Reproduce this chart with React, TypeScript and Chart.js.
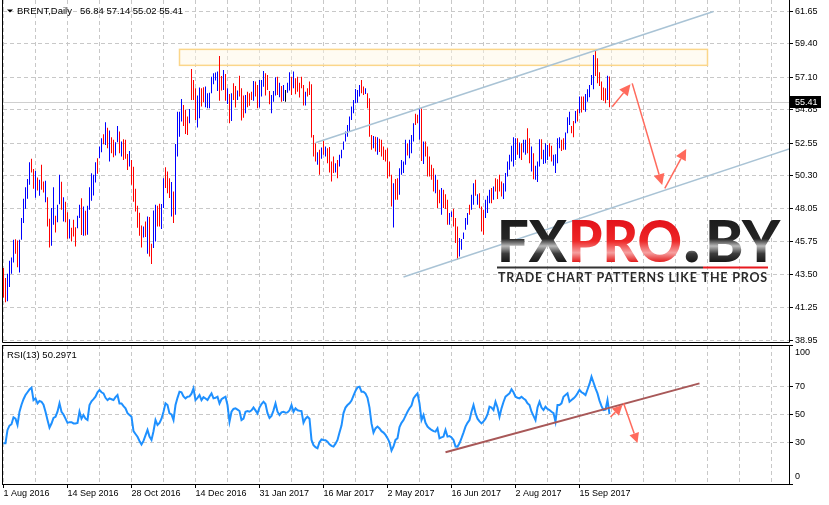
import React, { useEffect, useRef } from "react";
import { Chart, registerables } from "chart.js";

Chart.register(...registerables);

const FONT = '"Liberation Sans", Arial, Helvetica, sans-serif';

// ---------- DATA ----------
const highs = [
  43.95, 43.26, 43.56, 44.45, 44.68, 45.90, 45.94, 45.85, 45.90, 47.39,
  48.72, 49.52, 50.09, 51.24, 51.47, 50.78, 50.64, 50.19, 50.03, 51.06,
  49.91, 49.96, 48.83, 47.34, 48.08, 49.52, 47.55, 48.31, 50.37, 49.89,
  48.83, 48.51, 47.80, 47.32, 46.72, 47.27, 46.77, 47.55, 48.31, 48.76,
  48.19, 47.89, 48.24, 49.52, 50.48, 50.37, 51.24, 51.52, 52.32, 52.89,
  53.17, 53.99, 53.62, 53.42, 52.96, 52.78, 52.62, 53.74, 53.35, 52.66,
  52.82, 52.78, 51.81, 52.02, 51.40, 50.93, 49.41, 48.24, 47.76, 46.88,
  46.82, 47.16, 47.50, 47.46, 45.62, 47.92, 48.31, 48.24, 48.38, 48.36,
  50.14, 50.90, 50.60, 50.14, 49.87, 49.22, 52.50, 54.72, 54.72, 55.60,
  55.18, 54.84, 54.38, 54.91, 57.66, 56.90, 56.33, 55.83, 56.38, 56.33,
  56.40, 56.45, 55.99, 56.03, 57.13, 57.37, 57.41, 57.48, 58.56, 57.18,
  57.59, 57.32, 56.33, 55.94, 55.99, 56.68, 56.49, 56.17, 57.20, 56.33,
  55.83, 55.87, 56.10, 55.99, 56.10, 56.83, 56.79, 56.56, 56.90, 56.90,
  57.52, 57.37, 57.25, 56.15, 55.87, 56.15, 57.09, 57.13, 56.72, 56.49,
  56.56, 56.22, 56.72, 57.43, 57.13, 57.48, 57.02, 57.13, 56.72, 57.13,
  56.56, 56.10, 56.33, 56.79, 56.60, 53.12, 52.55, 51.93, 52.09, 52.25,
  52.78, 52.32, 52.21, 52.28, 51.29, 51.63, 51.17, 51.40, 51.75, 52.09,
  52.66, 53.35, 53.81, 54.38, 55.07, 55.53, 56.29, 56.22, 56.56, 56.90,
  56.45, 56.33, 55.99, 55.65, 53.12, 53.05, 53.00, 52.96, 52.85, 52.78,
  52.32, 52.09, 52.21, 51.29, 50.37, 49.80, 50.08, 50.14, 50.83, 51.40,
  51.29, 52.78, 52.55, 52.78, 53.12, 53.93, 54.57, 54.50, 54.89, 54.96,
  52.66, 52.66, 52.32, 51.63, 51.06, 50.83, 50.37, 50.03, 49.34, 49.46,
  49.34, 49.04, 48.65, 47.74, 47.85, 48.03, 47.39, 46.82, 46.02, 45.95,
  46.40, 47.39, 47.74, 48.31, 49.00, 49.80, 50.03, 49.04, 49.11, 48.19,
  47.96, 48.65, 48.93, 49.34, 49.46, 49.57, 50.14, 50.07, 50.37, 49.91,
  49.80, 50.49, 51.29, 51.75, 52.37, 52.96, 52.89, 52.89, 52.59, 52.55,
  52.78, 52.78, 53.58, 52.89, 52.32, 51.86, 50.99, 51.29, 52.82, 52.82,
  52.09, 52.55, 52.43, 52.55, 52.37, 51.75, 51.79, 52.89, 52.96, 52.78,
  52.89, 53.28, 54.34, 54.72, 53.74, 54.08, 54.77, 54.89, 55.76, 55.76,
  55.76, 55.94, 56.26, 56.56, 57.25, 58.62, 58.92, 58.40, 57.43, 56.79,
  56.38, 56.33, 57.20, 57.14,
];

const lows = [
  41.93, 41.59, 41.66, 42.64, 43.56, 44.34, 44.94, 44.00, 43.65, 45.90,
  47.05, 48.03, 48.72, 49.68, 50.53, 49.41, 48.79, 49.29, 48.93, 49.34,
  49.15, 48.49, 46.82, 45.37, 45.49, 46.93, 46.40, 47.11, 48.35, 47.96,
  47.16, 47.11, 45.97, 45.99, 45.78, 46.13, 45.44, 46.70, 47.39, 46.22,
  46.17, 46.20, 46.24, 47.96, 48.58, 48.95, 49.84, 50.44, 51.52, 51.93,
  52.48, 52.43, 52.20, 51.29, 51.86, 51.58, 51.70, 52.62, 51.86, 51.63,
  51.40, 51.47, 50.71, 50.94, 49.68, 48.51, 47.85, 46.72, 46.18, 45.37,
  46.06, 46.09, 44.94, 44.75, 44.23, 45.33, 45.78, 46.82, 46.82, 46.64,
  48.08, 49.46, 49.11, 48.77, 47.50, 47.05, 47.62, 51.63, 53.00, 54.04,
  53.74, 53.19, 53.12, 53.93, 55.53, 55.53, 54.15, 53.63, 54.27, 55.07,
  55.37, 55.03, 54.96, 54.96, 55.99, 56.61, 56.86, 56.15, 55.48, 56.17,
  56.22, 55.48, 55.25, 53.93, 54.08, 55.53, 55.00, 55.53, 55.76, 54.11,
  54.31, 54.61, 55.03, 55.12, 55.53, 55.48, 55.76, 54.96, 55.00, 55.76,
  56.44, 55.83, 56.22, 55.23, 54.61, 55.41, 55.83, 55.87, 55.71, 55.41,
  55.46, 55.41, 56.03, 56.17, 55.87, 56.33, 55.92, 56.10, 55.69, 56.33,
  55.14, 55.14, 55.76, 55.87, 52.95, 51.63, 51.29, 51.06, 50.37, 51.47,
  51.75, 51.63, 51.17, 50.53, 49.91, 50.49, 50.53, 50.14, 50.94, 51.52,
  52.09, 52.66, 53.00, 53.35, 54.15, 54.61, 55.30, 55.34, 55.76, 55.99,
  55.87, 55.94, 54.96, 53.00, 52.09, 52.21, 51.97, 51.75, 51.95, 51.63,
  51.40, 51.29, 50.14, 50.26, 48.19, 46.75, 48.65, 48.65, 49.00, 50.37,
  50.49, 51.06, 51.70, 51.52, 51.86, 52.66, 53.81, 53.93, 52.78, 51.33,
  51.11, 51.63, 50.26, 50.26, 50.03, 49.22, 49.11, 48.08, 48.42, 47.62,
  48.08, 48.01, 46.93, 46.93, 47.46, 46.82, 45.67, 44.53, 44.75, 45.21,
  45.95, 46.59, 46.93, 47.62, 47.96, 48.31, 48.93, 48.31, 48.08, 46.47,
  46.25, 47.39, 47.74, 48.42, 48.42, 48.65, 49.22, 48.70, 49.22, 48.88,
  48.70, 49.22, 50.26, 50.72, 51.29, 50.94, 51.40, 51.75, 51.52, 51.40,
  51.91, 51.75, 51.86, 51.17, 50.60, 50.07, 50.03, 49.87, 50.94, 51.45,
  51.11, 51.17, 51.40, 51.63, 51.29, 50.99, 50.49, 51.17, 52.21, 52.02,
  52.09, 52.09, 53.24, 53.81, 53.24, 52.96, 53.93, 54.04, 54.61, 54.66,
  54.84, 54.72, 55.41, 55.71, 56.56, 56.26, 57.18, 56.68, 56.49, 55.53,
  55.48, 55.30, 55.53, 55.02,
];

// u = up bar (blue), d = down bar (red), n = unchanged (black); groups of 5
const barDirs = (
  "dduuu udduu uuuud dudud duddu uduud uddud dduud uduuu uuduu " +
  "dudud duudu dddud ddddd ududd uuddu udddu duuuu dddud dduud " +
  "duuuu uuudd ududu ddudd duddd udduu udddu uudud unuud udddd " +
  "duddd ddudu duddd duduu uuuuu uuuud duddd ududd ddddd udduu " +
  "uuduu uddud udddd duddu ddduu ddduu uuudu ududd duuud udddd " +
  "uuuuu uudud uuddu duuud uuudd uuuud duuud dudud duuuu udddd ddud"
).replace(/ /g, "");

const rsiValues = [
  29.3, 29.3, 38.9, 42, 43, 48, 47, 42.5, 52, 57,
  61, 64, 66, 68, 69.3, 60.4, 61.6, 58, 59.7, 59.2,
  57, 52, 46, 40.5, 43.5, 47.5, 48.4, 52, 58, 52,
  50, 47, 44, 44.5, 44.5, 43.6, 43.6, 44, 52, 47,
  49.6, 47, 46, 56.8, 59.5, 61, 62.8, 66, 67.6, 66,
  65.2, 62, 60.4, 61.6, 61, 60.4, 62.5, 64, 58, 58,
  56, 54.4, 51, 49.6, 48.4, 38, 36, 34, 31, 28.5,
  31, 35, 38.9, 34.1, 31.7, 38, 46, 42.5, 44, 47,
  52, 58, 56.8, 50.8, 50, 46, 56.8, 62, 66.4, 66,
  63, 61.6, 62.8, 63, 65, 68.8, 60.4, 62, 64, 60.4,
  62.5, 61.5, 60.4, 63, 65.2, 61.6, 62, 62.8, 58, 61,
  62, 62.8, 56.8, 44.8, 52, 54, 54.4, 53.5, 52.5, 46,
  47, 52, 52.5, 52, 53, 55, 53, 50.8, 55, 57.5,
  59.2, 57.5, 51, 47.5, 49, 53, 58, 52, 49.6, 51.5,
  52, 51.3, 51.5, 53, 56.8, 52, 54.4, 53, 52.7, 52.5,
  44, 47, 48.4, 47, 31.7, 28, 26.5, 25.7, 30, 32.1,
  31.7, 31.5, 30.5, 28.5, 27.4, 26.9, 29, 31.7, 37, 42,
  51, 55, 56.8, 58, 60, 63.5, 67, 69.5, 70, 66.4,
  66.4, 65, 62, 55, 43.6, 37, 40, 41.3, 40, 38,
  37, 35.3, 33, 30, 24, 27, 31.7, 32.9, 41, 44,
  46, 49, 52, 54.5, 56.5, 61.6, 63.5, 65.2, 58, 46,
  49.6, 44, 41.3, 40, 38.9, 38, 37.7, 40, 32.9, 33.5,
  34.1, 38.9, 34.1, 34.5, 33.5, 31.7, 27, 26.9, 29.3, 33,
  37, 41.3, 44, 46, 52, 56.8, 51, 47, 45, 43.6,
  45, 47, 50, 55.6, 55, 53.2, 59.2, 55, 48.4, 54.4,
  59, 62.8, 64, 65.2, 68.1, 66, 62.8, 62, 61.6, 62.8,
  61.5, 60.4, 58, 56.8, 52, 49, 46, 55, 59.2, 55,
  53.2, 55.6, 54, 53.2, 52, 51, 44.8, 56.8, 56.8, 58,
  62.8, 64, 65.2, 59.2, 60.5, 61.6, 63, 65.2, 67.6, 66,
  65.2, 64, 68, 72, 77.2, 73, 68.8, 65.2, 60, 56,
  53.2, 53.5, 60.4, 50.3,
];

const dateLabels = [
  "1 Aug 2016", "14 Sep 2016", "28 Oct 2016", "14 Dec 2016", "31 Jan 2017",
  "16 Mar 2017", "2 May 2017", "16 Jun 2017", "2 Aug 2017", "15 Sep 2017",
];
const dateTickBars = [0, 32, 64, 96, 128, 160, 192, 224, 256, 288];
const priceTicks = [61.65, 59.40, 57.10, 54.85, 52.55, 50.30, 48.05, 45.75, 43.50, 41.25, 38.95];
const rsiTicks = [0, 30, 50, 70, 100];
const rsiGridLevels = [30, 50, 70];

const symbol = "BRENT,Daily";
const lastOHLC = [56.84, 57.14, 55.02, 55.41];
const rsiName = "RSI(13)";
const rsiLast = "50.2971";

// annotations in data units [barIndex, value]
const levelBox = [[88, 59.01], [352, 57.91]];
const channelUpper = [[156, 52.58], [355, 61.62]];
const channelLower = [[200, 43.33], [393.5, 52.19]];
const priceArrows = [
  [[304.35, 55.06], [313.5, 56.60]],
  [[314.35, 56.67], [329.35, 49.67]],
  [[330.65, 49.44], [341.35, 52.15]],
];
const rsiTrend = [[221, 22.8], [348, 72.4]];
const rsiArrows = [
  [[303.5, 48.2], [309.5, 56.8]],
  [[310, 58.3], [317, 29.5]],
];

// ---------- LAYOUT CONSTANTS ----------
const X_MIN = -0.25;
const X_MAX = 392.75;
const GRID_STEP = 16;
const PRICE_MIN = 38.86;
const PRICE_MAX = 62.41;
const GRID_COLOR = "#c8c8c8";
const ARROW_COLOR = "#ff6a5c";

function gridBars() {
  const out: number[] = [];
  for (let v = 0; v <= X_MAX; v += GRID_STEP) out.push(v);
  return out;
}

function zeroPad(s: any) {
  s.paddingTop = 0;
  s.paddingBottom = 0;
  s.paddingLeft = 0;
  s.paddingRight = 0;
}

function drawArrow(ctx: CanvasRenderingContext2D, x0: number, y0: number, x1: number, y1: number, head: number, half: number) {
  const dx = x1 - x0, dy = y1 - y0;
  const len = Math.hypot(dx, dy);
  const ux = dx / len, uy = dy / len;
  const bx = x1 - ux * head, by = y1 - uy * head;
  ctx.strokeStyle = ARROW_COLOR;
  ctx.fillStyle = ARROW_COLOR;
  ctx.lineWidth = 1.5;
  ctx.beginPath();
  ctx.moveTo(x0, y0);
  ctx.lineTo(bx, by);
  ctx.stroke();
  ctx.beginPath();
  ctx.moveTo(x1, y1);
  ctx.lineTo(bx - uy * half, by + ux * half);
  ctx.lineTo(bx + uy * half, by - ux * half);
  ctx.closePath();
  ctx.fill();
}

function drawLogo(ctx: CanvasRenderingContext2D) {
  ctx.save();
  const top = 220, base = 262;
  const dark = ctx.createLinearGradient(0, top, 0, base);
  dark.addColorStop(0, "#1c1c1c");
  dark.addColorStop(0.45, "#262626");
  dark.addColorStop(0.62, "#b9b9b9");
  dark.addColorStop(0.8, "#3c3c3c");
  dark.addColorStop(1, "#181818");
  const red = ctx.createLinearGradient(0, top, 0, base);
  red.addColorStop(0, "#e3121a");
  red.addColorStop(0.5, "#ee2626");
  red.addColorStop(0.78, "#f6a0a0");
  red.addColorStop(1, "#e21c1c");
  ctx.textBaseline = "alphabetic";
  ctx.textAlign = "left";
  ctx.font = '900 58px Lato, "DejaVu Sans", sans-serif';
  ctx.fillStyle = dark;
  ctx.fillText("FX", 497, base, 70);
  ctx.fillStyle = red;
  ctx.fillText("PRO", 568, base, 114);
  ctx.fillStyle = dark;
  ctx.fillText("BY", 705, base, 78);
  ctx.font = '900 74px Lato, "DejaVu Sans", sans-serif';
  ctx.fillText(".", 683, base, 21);
  // underline
  ctx.fillStyle = "#333333";
  ctx.fillRect(497, 266.5, 206, 2);
  ctx.fillStyle = "#e8191f";
  ctx.fillRect(703, 266.5, 65, 2);
  // tagline
  const tag = "TRADE CHART PATTERNS LIKE THE PROS";
  ctx.font = 'bold 12.5px Lato, "DejaVu Sans", sans-serif';
  ctx.fillStyle = "#2a2a2a";
  const w = ctx.measureText(tag).width;
  const target = 270;
  if (w < target && "letterSpacing" in ctx) {
    (ctx as any).letterSpacing = ((target - w) / (tag.length - 1)).toFixed(2) + "px";
  }
  ctx.fillText(tag, 498, 282.3, target);
  ctx.restore();
}

const mainDecor = {
  id: "mainDecor",
  beforeDatasetsDraw(chart: any) {
    const { ctx, chartArea: a, scales } = chart;
    const x = scales.x, y = scales.y;
    ctx.save();
    const bx0 = x.getPixelForValue(levelBox[0][0]);
    const bx1 = x.getPixelForValue(levelBox[1][0]);
    const by0 = y.getPixelForValue(levelBox[0][1]);
    const by1 = y.getPixelForValue(levelBox[1][1]);
    ctx.fillStyle = "rgba(255, 246, 226, 0.45)";
    ctx.fillRect(bx0, by0, bx1 - bx0, by1 - by0);
    ctx.strokeStyle = "#fbd68a";
    ctx.lineWidth = 1.5;
    ctx.strokeRect(bx0, by0, bx1 - bx0, by1 - by0);
    const py = Math.round(y.getPixelForValue(lastOHLC[3])) + 0.5;
    ctx.strokeStyle = "#cfcfcf";
    ctx.lineWidth = 1;
    ctx.beginPath();
    ctx.moveTo(a.left, py);
    ctx.lineTo(a.right, py);
    ctx.stroke();
    ctx.restore();
  },
  afterDatasetsDraw(chart: any) {
    const { ctx, chartArea: a, scales } = chart;
    const x = scales.x, y = scales.y;
    ctx.save();
    ctx.beginPath();
    ctx.rect(a.left, a.top, a.right - a.left, a.bottom - a.top);
    ctx.clip();
    ctx.strokeStyle = "#a9c3d5";
    ctx.lineWidth = 1.5;
    for (const ln of [channelUpper, channelLower]) {
      ctx.beginPath();
      ctx.moveTo(x.getPixelForValue(ln[0][0]), y.getPixelForValue(ln[0][1]));
      ctx.lineTo(x.getPixelForValue(ln[1][0]), y.getPixelForValue(ln[1][1]));
      ctx.stroke();
    }
    drawLogo(ctx);
    for (const ar of priceArrows) {
      drawArrow(
        ctx,
        x.getPixelForValue(ar[0][0]), y.getPixelForValue(ar[0][1]),
        x.getPixelForValue(ar[1][0]), y.getPixelForValue(ar[1][1]),
        11, 5.5
      );
    }
    ctx.restore();
  },
  afterDraw(chart: any) {
    const { ctx, chartArea: a, scales } = chart;
    const y = scales.y;
    ctx.save();
    // frame
    ctx.strokeStyle = "#000";
    ctx.lineWidth = 1;
    ctx.beginPath();
    ctx.moveTo(a.left - 0.5, 0);
    ctx.lineTo(a.left - 0.5, a.bottom + 0.5);
    ctx.lineTo(a.right + 0.5, a.bottom + 0.5);
    ctx.lineTo(a.right + 0.5, 0);
    ctx.stroke();
    // title
    ctx.fillStyle = "#000";
    ctx.beginPath();
    ctx.moveTo(7, 9.5);
    ctx.lineTo(13, 9.5);
    ctx.lineTo(10, 12.5);
    ctx.closePath();
    ctx.fill();
    ctx.font = "9.5px " + FONT;
    ctx.textBaseline = "middle";
    ctx.textAlign = "left";
    ctx.fillText(symbol, 17, 11.5);
    ctx.fillText(lastOHLC.map((v) => v.toFixed(2)).join(" "), 80, 11.5);
    // last price box
    const py = Math.round(y.getPixelForValue(lastOHLC[3]));
    ctx.fillStyle = "#000";
    ctx.fillRect(a.right + 1, py - 6, 31, 12);
    ctx.fillStyle = "#fff";
    ctx.font = "9px " + FONT;
    ctx.fillText(lastOHLC[3].toFixed(2), a.right + 6, py + 0.5);
    ctx.restore();
  },
};

const rsiDecor = {
  id: "rsiDecor",
  beforeDraw(chart: any) {
    const sc = chart.scales.y;
    const items = sc.getLabelItems(chart.chartArea);
    items.forEach((it: any, k: number) => {
      if (it._nudged) return;
      const val = sc.ticks[k] && sc.ticks[k].value;
      if (val === 100) it.options.translation[1] += 7.7;
      if (val === 0) it.options.translation[1] -= 7.3;
      it._nudged = true;
    });
  },
  afterDatasetsDraw(chart: any) {
    const { ctx, chartArea: a, scales } = chart;
    const x = scales.x, y = scales.y;
    ctx.save();
    ctx.beginPath();
    ctx.rect(a.left, a.top, a.right - a.left, a.bottom - a.top);
    ctx.clip();
    ctx.strokeStyle = "#a85858";
    ctx.lineWidth = 2;
    ctx.beginPath();
    ctx.moveTo(x.getPixelForValue(rsiTrend[0][0]), y.getPixelForValue(rsiTrend[0][1]));
    ctx.lineTo(x.getPixelForValue(rsiTrend[1][0]), y.getPixelForValue(rsiTrend[1][1]));
    ctx.stroke();
    for (const ar of rsiArrows) {
      drawArrow(
        ctx,
        x.getPixelForValue(ar[0][0]), y.getPixelForValue(ar[0][1]),
        x.getPixelForValue(ar[1][0]), y.getPixelForValue(ar[1][1]),
        10, 5
      );
    }
    ctx.restore();
  },
  afterDraw(chart: any) {
    const { ctx, chartArea: a } = chart;
    ctx.save();
    ctx.strokeStyle = "#000";
    ctx.lineWidth = 1;
    ctx.strokeRect(a.left - 0.5, a.top + 0.5, a.right - a.left + 1, a.bottom - a.top);
    ctx.fillStyle = "#000";
    ctx.font = "9.5px " + FONT;
    ctx.textBaseline = "middle";
    ctx.textAlign = "left";
    ctx.fillText(rsiName + " " + rsiLast, 7, 11.5);
    ctx.restore();
  },
};

function mainConfig(): any {
  const colors = barDirs.split("").map((c) => (c === "u" ? "#0000ff" : c === "d" ? "#ff0000" : "#000000"));
  return {
    type: "bar",
    data: {
      datasets: [
        {
          data: highs.map((h, k) => ({ x: k, y: [lows[k], h] })),
          backgroundColor: colors,
          borderWidth: 0,
          barThickness: 1,
          minBarLength: 1,
          inflateAmount: 0,
          grouped: false,
        },
      ],
    },
    options: {
      animation: false,
      responsive: false,
      devicePixelRatio: 1,
      events: [],
      layout: { padding: { left: 3, right: 0, top: 0, bottom: 2 }, autoPadding: false },
      plugins: { legend: { display: false }, tooltip: { enabled: false } },
      scales: {
        x: {
          type: "linear",
          min: X_MIN,
          max: X_MAX,
          offset: false,
          ticks: { display: false },
          grid: { color: GRID_COLOR, drawTicks: false, offset: false },
          border: { display: false, dash: [4, 3] },
          afterBuildTicks: (s: any) => {
            s.ticks = gridBars().map((v) => ({ value: v }));
          },
          afterFit: (s: any) => {
            s.height = 0;
            zeroPad(s);
          },
        },
        y: {
          type: "linear",
          position: "right",
          min: PRICE_MIN,
          max: PRICE_MAX,
          beginAtZero: false,
          ticks: {
            color: "#000",
            font: { family: FONT, size: 9 },
            padding: 2,
            autoSkip: false,
            callback: (v: any) => Number(v).toFixed(2),
          },
          grid: { color: GRID_COLOR, tickColor: "#000", tickLength: 4 },
          border: { display: false, dash: [4, 3] },
          afterBuildTicks: (s: any) => {
            s.ticks = priceTicks.map((v) => ({ value: v }));
          },
          afterFit: (s: any) => {
            s.width = 40;
            zeroPad(s);
          },
        },
      },
    },
    plugins: [mainDecor],
  };
}

function rsiConfig(): any {
  return {
    type: "line",
    data: {
      datasets: [
        {
          data: rsiValues.map((v, k) => ({ x: k, y: v })),
          borderColor: "#1e90ff",
          borderWidth: 2,
          pointRadius: 0,
          tension: 0,
          fill: false,
        },
      ],
    },
    options: {
      animation: false,
      responsive: false,
      devicePixelRatio: 1,
      events: [],
      layout: { padding: { left: 3, right: 0, top: 1, bottom: 0 }, autoPadding: false },
      plugins: { legend: { display: false }, tooltip: { enabled: false } },
      scales: {
        x: {
          type: "linear",
          min: X_MIN,
          max: X_MAX,
          offset: false,
          ticks: {
            color: "#000",
            font: { family: FONT, size: 9 },
            align: "start",
            autoSkip: false,
            maxRotation: 0,
            minRotation: 0,
            padding: 0,
            callback: (v: any) => {
              const k = dateTickBars.indexOf(Number(v));
              return k >= 0 ? dateLabels[k] : "";
            },
          },
          grid: {
            color: GRID_COLOR,
            tickLength: 4,
            tickColor: (c: any) => (c.tick && dateTickBars.includes(c.tick.value) ? "#000" : "rgba(0,0,0,0)"),
          },
          border: { display: false, dash: [4, 3] },
          afterBuildTicks: (s: any) => {
            s.ticks = gridBars().map((v) => ({ value: v }));
          },
          afterFit: (s: any) => {
            s.height = 21;
            zeroPad(s);
          },
        },
        y: {
          type: "linear",
          position: "right",
          min: 0,
          max: 100,
          ticks: {
            color: "#000",
            font: { family: FONT, size: 9 },
            padding: 2,
            autoSkip: false,
            callback: (v: any) => String(v),
          },
          grid: {
            color: (c: any) => (c.tick && rsiGridLevels.includes(c.tick.value) ? GRID_COLOR : "rgba(0,0,0,0)"),
            tickColor: "#000",
            tickLength: 4,
          },
          border: { display: false, dash: [4, 3] },
          afterBuildTicks: (s: any) => {
            s.ticks = rsiTicks.map((v) => ({ value: v }));
          },
          afterFit: (s: any) => {
            s.width = 40;
            zeroPad(s);
          },
        },
      },
    },
    plugins: [rsiDecor],
  };
}

export default function App() {
  const mainRef = useRef<HTMLCanvasElement>(null);
  const rsiRef = useRef<HTMLCanvasElement>(null);
  useEffect(() => {
    const main = new Chart(mainRef.current as HTMLCanvasElement, mainConfig());
    const rsi = new Chart(rsiRef.current as HTMLCanvasElement, rsiConfig());
    return () => {
      main.destroy();
      rsi.destroy();
    };
  }, []);
  return (
    <div style={{ position: "fixed", left: 0, top: 0, width: 829, height: 505, background: "#fff", overflow: "hidden" }}>
      <canvas
        ref={mainRef}
        width={829}
        height={344}
        style={{ position: "absolute", left: 0, top: 0, width: 829, height: 344, display: "block" }}
      />
      <canvas
        ref={rsiRef}
        width={829}
        height={161}
        style={{ position: "absolute", left: 0, top: 344, width: 829, height: 161, display: "block" }}
      />
    </div>
  );
}
